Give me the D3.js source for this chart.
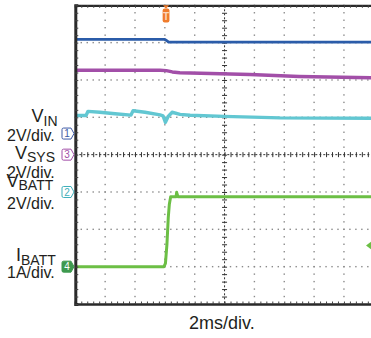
<!DOCTYPE html>
<html><head><meta charset="utf-8">
<script src="https://cdn.jsdelivr.net/npm/d3@7"></script>
<style>
html,body{margin:0;padding:0;background:#fff;}
svg{display:block;font-family:"Liberation Sans",Arial,sans-serif;}
</style></head>
<body>
<svg id="c" width="371" height="338"></svg>
<script>
// ---- data (time in ms, 2 ms/div) ----
const timeDivs = 10, msPerDiv = 2;
const vinT   = [0, 6.0, 6.15, 6.25, 20];
const vinV   = [5.04, 5.04, 4.96, 4.90, 4.90];
const vsysT  = [0, 5.68, 6.1, 6.5, 7.0, 8.4, 11.7, 15.0, 20];
const vsysV  = [4.52, 4.52, 4.50, 4.43, 4.39, 4.36, 4.29, 4.19, 4.12];
const vbattT = [0, 0.72, 0.85, 1.65, 2.66, 3.73, 3.87, 4.67, 5.68, 5.88, 6.04, 6.21, 6.48, 7.02, 7.69, 9.96, 13.72, 20];
const vbattV = [4.10, 4.10, 4.32, 4.27, 4.19, 4.12, 4.35, 4.27, 4.13, 4.08, 3.73, 4.03, 4.27, 4.16, 4.11, 4.05, 3.97, 3.95];
const ibattT = [0, 5.94, 6.04, 6.14, 6.23, 6.30, 6.39, 6.75, 6.79, 6.88, 20];
const ibattA = [0, 0, 0.09, 0.6, 1.32, 1.67, 1.87, 1.87, 1.99, 1.87, 1.87];
const channelNames = ["1", "3", "2", "4"];
const channelScale = ["2V/div.", "2V/div.", "2V/div.", "1A/div."];
const timeLabel = "2ms/div.";
const triggerTime = 6.08;
const triggerLevelA = 0.57; // ch4 trigger level

// ---- layout ----
const svg = d3.select("#c");
const L = 75.3, R = L + 29.85 * timeDivs, T = 5.3, B = 304;
const x = d3.scaleLinear().domain([0, timeDivs * msPerDiv]).range([L, R]);
const yDiv = d3.scaleLinear().domain([-4, 4]).range([B, T]);

const channels = [
  {name: "1", offset: 0.565, perDiv: 2, color: "#2b5ca9", tag: "#3d5aa6", t: vinT, v: vinV, w: 2.8},
  {name: "3", offset: 0, perDiv: 2, color: "#a24fa8", tag: "#a24fa8", t: vsysT, v: vsysV, w: 3.4},
  {name: "2", offset: -1, perDiv: 2, color: "#62c7d2", tag: "#3fb0bb", t: vbattT, v: vbattV, w: 3.4},
  {name: "4", offset: -3, perDiv: 1, color: "#6cbf45", tag: "#3e9a4f", t: ibattT, v: ibattA, w: 3}
];
const yCh = (ch, v) => yDiv(ch.offset + v / ch.perDiv);

// ---- grid dots ----
const g = svg.append("g");
const xMinor = d3.range(0, timeDivs * 5 + 1).map(i => i * msPerDiv / 5);
const yMinor = d3.range(-20, 21).map(i => i / 5);
for (let i = 1; i < timeDivs; i++) {
  if (i === 5) continue;
  const xx = x(i * msPerDiv);
  g.selectAll(null).data(yMinor).join("rect")
    .attr("x", xx - 0.7).attr("y", d => yDiv(d) - 0.7)
    .attr("width", 1.4).attr("height", 1.4).attr("fill", "#8a8a8a");
}
for (let j = -3; j <= 3; j++) {
  if (j === 0) continue;
  const yy = yDiv(j);
  g.selectAll(null).data(xMinor).join("rect")
    .attr("x", d => x(d) - 0.7).attr("y", yy - 0.7)
    .attr("width", 1.4).attr("height", 1.4).attr("fill", "#8a8a8a");
}

// center cross lines
const cx = x(5 * msPerDiv), cy = yDiv(0);
g.append("line").attr("x1", cx).attr("x2", cx).attr("y1", T).attr("y2", B)
  .attr("stroke", "#333").attr("stroke-width", 1).attr("stroke-dasharray", "2,2");
g.append("line").attr("x1", L).attr("x2", R).attr("y1", cy).attr("y2", cy)
  .attr("stroke", "#333").attr("stroke-width", 1).attr("stroke-dasharray", "2,2");
const cxAxis = d3.axisRight(yDiv).tickValues(yMinor).tickSize(5).tickFormat("");
g.append("g").attr("transform", `translate(${cx - 2.5},0)`).call(cxAxis)
  .call(s => s.select(".domain").remove())
  .selectAll("line").attr("stroke", "#333").attr("stroke-width", 1);
const cyAxis = d3.axisBottom(x).tickValues(xMinor).tickSize(5).tickFormat("");
g.append("g").attr("transform", `translate(0,${cy - 2.5})`).call(cyAxis)
  .call(s => s.select(".domain").remove())
  .selectAll("line").attr("stroke", "#333").attr("stroke-width", 1);

// ---- traces ----
const line = ch => d3.line().x((d, i) => x(ch.t[i])).y(d => yCh(ch, d));
const clip = svg.append("clipPath").attr("id", "pa").append("rect")
  .attr("x", L).attr("y", T).attr("width", R - L).attr("height", B - T);
const tg = svg.append("g").attr("clip-path", "url(#pa)");
channels.forEach(ch => {
  tg.append("path").attr("d", line(ch)(ch.v)).attr("fill", "none")
    .attr("stroke", ch.color).attr("stroke-width", ch.w)
    .attr("stroke-linejoin", "round").attr("stroke-linecap", "butt");
});

// ---- frame with minor ticks ----
const fr = svg.append("g");
const topAx = d3.axisBottom(x).tickValues(xMinor).tickSize(2.5).tickFormat("");
fr.append("g").attr("transform", `translate(0,${T})`).call(topAx)
  .call(s => s.select(".domain").attr("stroke", "#2a2a2a").attr("stroke-width", 2.2))
  .selectAll("line").attr("stroke", "#444");
const botAx = d3.axisTop(x).tickValues(xMinor).tickSize(2.5).tickFormat("");
fr.append("g").attr("transform", `translate(0,${B})`).call(botAx)
  .call(s => s.select(".domain").attr("stroke", "#2a2a2a").attr("stroke-width", 2.4))
  .selectAll("line").attr("stroke", "#444");
const leftAx = d3.axisRight(yDiv).tickValues(yMinor).tickSize(3).tickFormat("");
fr.append("g").attr("transform", `translate(${L},0)`).call(leftAx)
  .call(s => s.select(".domain").attr("stroke", "#2a2a2a").attr("stroke-width", 3))
  .selectAll("line").attr("stroke", "#444");

// ---- channel tags ----
channels.forEach(ch => {
  const yy = yDiv(ch.offset);
  const x0 = 62, w = 9, h = 11;
  const filled = ch.name === "4";
  const p = `M${x0 + 1.5},${yy - h / 2} L${x0 + w},${yy - h / 2} L${x0 + w + 3},${yy} L${x0 + w},${yy + h / 2} L${x0 + 1.5},${yy + h / 2} Q${x0},${yy + h / 2} ${x0},${yy + h / 2 - 1.5} L${x0},${yy - h / 2 + 1.5} Q${x0},${yy - h / 2} ${x0 + 1.5},${yy - h / 2} Z`;
  svg.append("path").attr("d", p)
    .attr("fill", filled ? ch.tag : "#fff")
    .attr("stroke", ch.tag).attr("stroke-width", 1);
  svg.append("text").attr("x", x0 + 5).attr("y", yy + 3.6)
    .attr("text-anchor", "middle").attr("font-size", 10)
    .attr("fill", filled ? "#fff" : ch.tag).text(ch.name);
});

// trigger marker
const tx = x(triggerTime);
svg.append("path").attr("d", `M${tx - 3},${T} L${tx + 3},${T} L${tx},${T + 3.5} Z`).attr("fill", "#f07c2c");
svg.append("rect").attr("x", tx - 3.4).attr("y", 8.5).attr("width", 6.8).attr("height", 14)
  .attr("rx", 2).attr("fill", "#f07c2c");
svg.append("text").attr("x", tx).attr("y", 19.5).attr("text-anchor", "middle")
  .attr("font-size", 10).attr("font-weight", "bold").attr("fill", "#fbd7bd").text("T");

// trigger level arrow (right)
const ty = yCh(channels[3], triggerLevelA);
svg.append("path").attr("d", `M${366},${ty} L${372},${ty - 4.5} L${372},${ty + 4.5} Z`).attr("fill", "#6cbf45");

// ---- labels ----
const lab = svg.append("g").attr("fill", "#231f20");
function chanLabel(main, sub, x0, yb, subDy) {
  const t = lab.append("text").attr("x", x0).attr("y", yb).attr("font-size", 18);
  t.append("tspan").text(main);
  t.append("tspan").attr("dy", subDy).attr("font-size", 14).text(sub);
}
chanLabel("V", "IN", 31.5, 122, 4);
lab.append("text").attr("x", 7).attr("y", 141).attr("font-size", 16).text(channelScale[0]);
chanLabel("V", "SYS", 15, 158.5, 3.5);
lab.append("text").attr("x", 7).attr("y", 177.5).attr("font-size", 16).text(channelScale[1]);
chanLabel("V", "BATT", 6.5, 186.5, 3.5);
lab.append("text").attr("x", 7).attr("y", 208.5).attr("font-size", 16).text(channelScale[2]);
chanLabel("I", "BATT", 16, 261, 4);
lab.append("text").attr("x", 7).attr("y", 278).attr("font-size", 16).text(channelScale[3]);

lab.append("text").attr("x", 189).attr("y", 328.5).attr("font-size", 18).text(timeLabel);
</script>
</body></html>
